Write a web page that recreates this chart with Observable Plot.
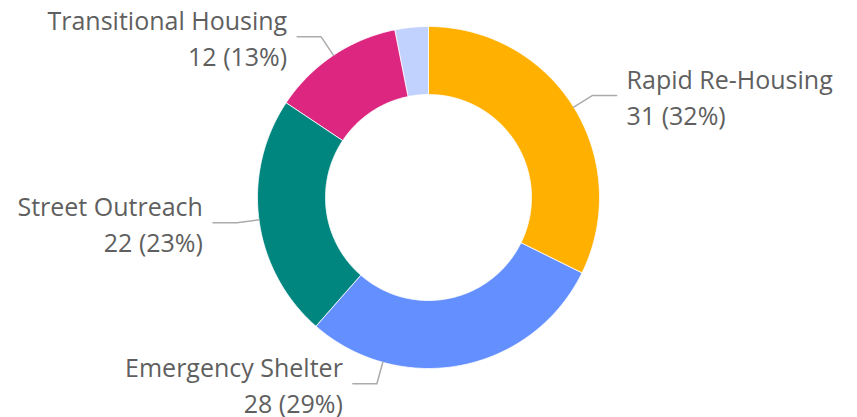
<!DOCTYPE html>
<html><head><meta charset="utf-8">
<script src="https://cdn.jsdelivr.net/npm/d3@7"></script>
<script src="https://cdn.jsdelivr.net/npm/@observablehq/plot@0.6"></script>
<style>body{margin:0;background:#fff;font-family:"Open Sans",sans-serif}</style>
</head><body><div id="chart"></div>
<script>
// ---- data ----
const categories = ["Rapid Re-Housing", "Emergency Shelter", "Street Outreach", "Transitional Housing", "Other"];
const counts = [31, 28, 22, 12, 3];
const labelled = [true, true, true, true, false];
const colors = ["#FFB000", "#648FFF", "#00857F", "#DC267F", "#C2D2FF"];

// ---- layout ----
const W = 857, H = 417, cx = 428, cy = 197, R = 171;
const inner = 103 / R;
const elbowR = 1.13;
const hLen = 24 / R;
const labelAngleOverride = {"Emergency Shelter": 195.5}; // degrees, clockwise from top

const total = d3.sum(counts);
const pie = d3.pie().sort(null).value(d => d)(counts);

const arcPts = [];
pie.forEach((p, i) => {
  const span = p.endAngle - p.startAngle;
  const n = Math.max(2, Math.ceil(span / 0.01));
  for (let k = 0; k <= n; k++) {
    const a = p.startAngle + span * k / n;
    arcPts.push({cat: categories[i], x: Math.sin(a), y: Math.cos(a)});
  }
  for (let k = n; k >= 0; k--) {
    const a = p.startAngle + span * k / n;
    arcPts.push({cat: categories[i], x: inner * Math.sin(a), y: inner * Math.cos(a)});
  }
});

const leaders = [], labels = [];
pie.forEach((p, i) => {
  if (!labelled[i]) return;
  const cat = categories[i];
  const a = labelAngleOverride[cat] != null ? labelAngleOverride[cat] * Math.PI / 180 : (p.startAngle + p.endAngle) / 2;
  const right = Math.sin(a) >= 0;
  const ex = elbowR * Math.sin(a), ey = elbowR * Math.cos(a);
  const endX = ex + (right ? hLen : -hLen);
  leaders.push({cat, x: Math.sin(a), y: Math.cos(a)});
  leaders.push({cat, x: ex, y: ey});
  leaders.push({cat, x: endX, y: ey});
  const v = counts[i];
  labels.push({cat, x: endX, y: ey, right, text: `${cat}\n${v} (${Math.round(v / total * 100)}%)`});
});

const chart = Plot.plot({
  width: W, height: H, margin: 0,
  style: {fontFamily: "'Open Sans', sans-serif", background: "#fff"},
  x: {domain: [-cx / R, (W - cx) / R], axis: null},
  y: {domain: [-(H - cy) / R, cy / R], axis: null},
  color: {domain: categories, range: colors},
  marks: [
    Plot.line(arcPts, {x: "x", y: "y", z: "cat", fill: "cat", stroke: "white", strokeWidth: 0.8, curve: "linear-closed"}),
    Plot.line(leaders, {x: "x", y: "y", z: "cat", stroke: "#ababab", strokeWidth: 1.5}),
    Plot.text(labels.filter(d => d.right), {x: "x", y: "y", text: "text", textAnchor: "start", dx: 10, dy: 0, fontSize: 25, lineHeight: 1.44, fill: "#5f5f5f"}),
    Plot.text(labels.filter(d => !d.right), {x: "x", y: "y", text: "text", textAnchor: "end", dx: -10, dy: 0, fontSize: 25, lineHeight: 1.44, fill: "#5f5f5f"})
  ]
});
document.getElementById("chart").appendChild(chart);
</script>
</body></html>
